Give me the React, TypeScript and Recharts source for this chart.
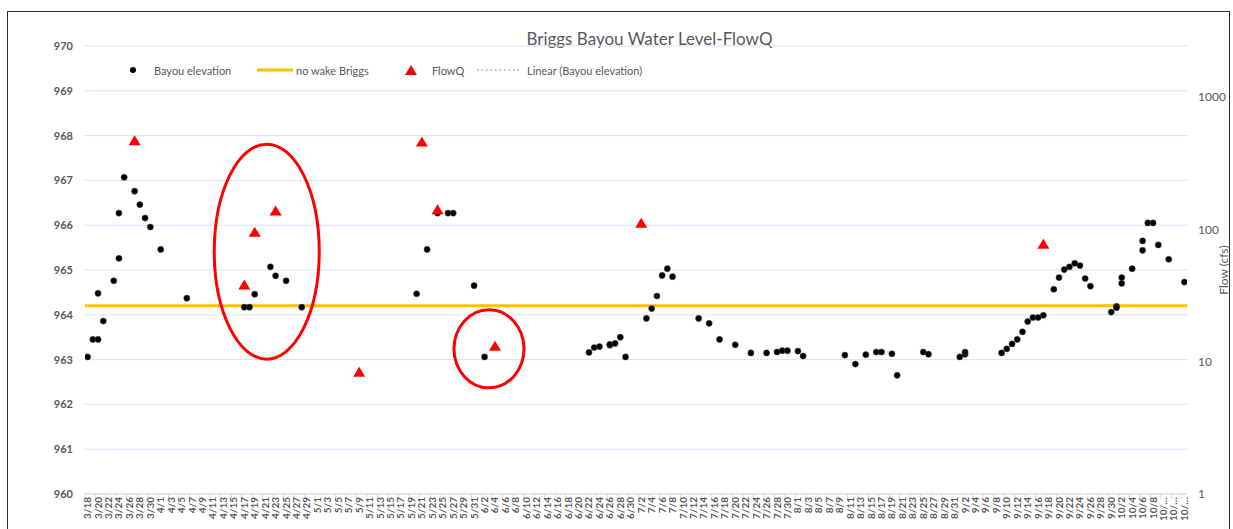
import React from "react";
import {
  ComposedChart,
  Scatter,
  XAxis,
  YAxis,
  CartesianGrid,
  ReferenceLine,
  ReferenceDot,
} from "recharts";

// Bayou elevation readings (ft), one entry per measurement
const bayouDates = [
  "3/18", "3/19", "3/20", "3/20", "3/21", "3/23", "3/24", "3/24", "3/25", "3/27",
  "3/28", "3/29", "3/30", "4/1", "4/6", "4/17", "4/18", "4/19", "4/22", "4/23",
  "4/25", "4/28", "5/20", "5/22", "5/24", "5/26", "5/27", "5/31", "6/2", "6/22",
  "6/23", "6/24", "6/26", "6/26", "6/27", "6/28", "6/29", "7/3", "7/4", "7/5",
  "7/6", "7/7", "7/8", "7/13", "7/15", "7/17", "7/20", "7/23", "7/26", "7/28",
  "7/29", "7/30", "8/1", "8/2", "8/10", "8/12", "8/14", "8/16", "8/17", "8/19",
  "8/20", "8/25", "8/26", "9/1", "9/2", "9/2", "9/9", "9/10", "9/11", "9/12",
  "9/13", "9/14", "9/15", "9/16", "9/17", "9/19", "9/20", "9/21", "9/22", "9/23",
  "9/24", "9/25", "9/26", "9/30", "10/1", "10/1", "10/2", "10/2", "10/4", "10/6",
  "10/6", "10/7", "10/8", "10/9", "10/11", "10/14",
];
const bayouLevels = [
  963.06, 963.45, 963.45, 964.48, 963.86, 964.76, 965.26, 966.27, 967.07, 966.76,
  966.46, 966.16, 965.96, 965.46, 964.37, 964.17, 964.17, 964.46, 965.07, 964.87,
  964.76, 964.17, 964.47, 965.46, 966.27, 966.27, 966.27, 964.65, 963.06, 963.16,
  963.27, 963.29, 963.32, 963.34, 963.36, 963.5, 963.06, 963.92, 964.14, 964.42,
  964.88, 965.03, 964.85, 963.92, 963.81, 963.45, 963.33, 963.15, 963.15, 963.17,
  963.2, 963.2, 963.19, 963.08, 963.1, 962.9, 963.11, 963.17, 963.17, 963.13,
  962.65, 963.17, 963.12, 963.06, 963.12, 963.17, 963.15, 963.24, 963.35, 963.45,
  963.62, 963.85, 963.94, 963.94, 963.99, 964.57, 964.83, 965.01, 965.07, 965.15,
  965.1, 964.81, 964.64, 964.06, 964.19, 964.16, 964.83, 964.7, 965.03, 965.44,
  965.65, 966.05, 966.05, 965.56, 965.24, 964.73,
];

// FlowQ (cfs), right log axis
const flowDates = ["3/27", "4/17", "4/19", "4/23", "5/9", "5/21", "5/24", "6/4", "7/2", "9/17"];
const flowValues = [472, 38.3, 96, 139, 8.4, 462, 142, 13.2, 112, 78];

const noWakeLevel = 964.2;
const leftTicks = [960, 961, 962, 963, 964, 965, 966, 967, 968, 969, 970];
const rightTicks = [1, 10, 100, 1000];

// date range of the category axis
const firstDay = "3/18";
const lastDay = "10/14";

const YEAR = 2019;
const toUTC = (md: string) => {
  const [m, d] = md.split("/").map(Number);
  return Date.UTC(YEAR, m - 1, d);
};
const dayIndex = (md: string) => Math.round((toUTC(md) - toUTC(firstDay)) / 86400000);
const dayCount = dayIndex(lastDay) + 1;
const dayLabel = (i: number) => {
  const dt = new Date(toUTC(firstDay) + i * 86400000);
  return `${dt.getUTCMonth() + 1}/${dt.getUTCDate()}`;
};
const xTicks: number[] = [];
for (let i = 0; i < dayCount; i += 2) xTicks.push(i);

const bayouData = bayouDates.map((d, i) => ({ x: dayIndex(d), y: bayouLevels[i] }));
const flowData = flowDates.map((d, i) => ({ x: dayIndex(d), q: flowValues[i] }));

const FONT = "Lato, 'Liberation Sans', sans-serif";
const GREY = "#595959";
const PLOT_W = 1102;
const DAY_PX = PLOT_W / dayCount;

const DateTick = (props: any) => {
  const { x, y, payload } = props;
  const i = payload.value as number;
  let label = dayLabel(i);
  if (i > dayCount - 6) label = label.split("/")[0] + "/…";
  return (
    <g>
      <line x1={x - DAY_PX / 2} x2={x - DAY_PX / 2} y1={y} y2={y + 5} stroke="#D9D9D9" />
      <text
        x={x}
        y={y + 3}
        dy="0.35em"
        transform={`rotate(-90, ${x}, ${y + 3})`}
        textAnchor="end"
        fill={GREY}
        fontSize={10}
        fontWeight="bold"
        fontFamily={FONT}
      >
        {label}
      </text>
    </g>
  );
};

const Dot = (props: any) => {
  const { cx, cy } = props;
  if (cx == null || cy == null) return null;
  return <circle cx={cx} cy={cy} r={3.1} fill="#000" stroke="#555" strokeWidth={0.5} />;
};

const Tri = (props: any) => {
  const { cx, cy } = props;
  if (cx == null || cy == null) return null;
  return (
    <polygon
      points={`${cx},${cy - 5} ${cx + 6},${cy + 5} ${cx - 6},${cy + 5}`}
      fill="#FF0000"
    />
  );
};

const ellipseShape = (rx: number, ry: number) => (props: any) => (
  <ellipse cx={props.cx} cy={props.cy} rx={rx} ry={ry} fill="none" stroke="#FF0000" strokeWidth={3} />
);

const LegendBox = () => (
  <svg width={560} height={20} style={{ display: "block" }}>
    <g fontFamily={FONT} fontSize={11} fill={GREY}>
      <circle cx={15} cy={10} r={3} fill="#000" />
      <text x={36} y={10} dominantBaseline="central">Bayou elevation</text>
      <line x1={139} x2={175} y1={10} y2={10} stroke="#FFC000" strokeWidth={3} />
      <text x={178} y={10} dominantBaseline="central">no wake Briggs</text>
      <polygon points="293,5 299,15 287,15" fill="#FF0000" />
      <text x={314} y={10} dominantBaseline="central">FlowQ</text>
      <line x1={359} x2={402} y1={10} y2={10} stroke="#A6A6A6" strokeWidth={1.5} strokeDasharray="1.5 3" />
      <text x={409} y={10} dominantBaseline="central">Linear (Bayou elevation)</text>
    </g>
  </svg>
);

const FlowLabel = (props: any) => {
  const vb = props.viewBox || {};
  const x = vb.x + 36;
  const y = vb.y + vb.height / 2;
  return (
    <text
      x={x}
      y={y}
      transform={`rotate(-90, ${x}, ${y})`}
      textAnchor="middle"
      dominantBaseline="central"
      fill={GREY}
      fontSize={12}
      fontFamily={FONT}
    >
      Flow (cfs)
    </text>
  );
};

export default function App() {
  return (
    <div
      style={{
        position: "absolute",
        left: 0,
        top: 0,
        width: 1233,
        height: 529,
        overflow: "hidden",
        background: "#fff",
      }}
    >
      <div
        style={{
          position: "absolute",
          left: 7,
          top: 11,
          width: 1223,
          height: 560,
          border: "1px solid #2b2b2b",
          boxSizing: "border-box",
        }}
      />
      <div
        style={{
          position: "absolute",
          left: 0,
          width: 1299,
          top: 29,
          textAlign: "center",
          fontFamily: FONT,
          fontSize: 17,
          color: GREY,
          lineHeight: "20px",
        }}
      >
        Briggs Bayou Water Level-FlowQ
      </div>
      <div style={{ position: "absolute", left: 0, top: 0 }}>
        <ComposedChart
          width={1233}
          height={529}
          margin={{ top: 46, right: 0, bottom: 0, left: 0 }}
        >
          <CartesianGrid yAxisId="left" vertical={false} stroke="#D9E1F2" strokeWidth={1} />
          <XAxis
            type="number"
            dataKey="x"
            domain={[-0.5, dayCount - 0.5]}
            ticks={xTicks}
            interval={0}
            height={35}
            tickSize={0}
            tickMargin={0}
            axisLine={{ stroke: "#D9D9D9" }}
            tick={<DateTick />}
            allowDataOverflow
          />
          <YAxis
            yAxisId="left"
            dataKey="y"
            domain={[960, 970]}
            ticks={leftTicks}
            interval={0}
            width={85}
            axisLine={false}
            tickLine={false}
            tickSize={0}
            tickMargin={12}
            tick={{ fill: GREY, fontSize: 11, fontWeight: "bold", fontFamily: FONT }}
            allowDataOverflow
          />
          <YAxis
            yAxisId="right"
            orientation="right"
            dataKey="q"
            scale="log"
            domain={[1, 2430]}
            ticks={rightTicks}
            interval={0}
            width={46}
            axisLine={false}
            tickLine={false}
            tickSize={0}
            tickMargin={11}
            tick={{ fill: GREY, fontSize: 12, fontFamily: FONT }}
            label={<FlowLabel />}
            allowDataOverflow
          />
          <ReferenceLine yAxisId="left" y={noWakeLevel} stroke="#FFC000" strokeWidth={3} />
          <Scatter
            name="Bayou elevation"
            data={bayouData}
            yAxisId="left"
            shape={<Dot />}
            isAnimationActive={false}
          />
          <Scatter
            name="FlowQ"
            data={flowData}
            yAxisId="right"
            shape={<Tri />}
            isAnimationActive={false}
          />
          <ReferenceDot
            yAxisId="left"
            x={34.3}
            y={965.41}
            shape={ellipseShape(52.5, 107.5)}
          />
          <ReferenceDot
            yAxisId="left"
            x={76.85}
            y={963.24}
            shape={ellipseShape(35, 39)}
          />
        </ComposedChart>
      </div>
      <div style={{ position: "absolute", left: 118, top: 60 }}>
        <LegendBox />
      </div>
    </div>
  );
}
